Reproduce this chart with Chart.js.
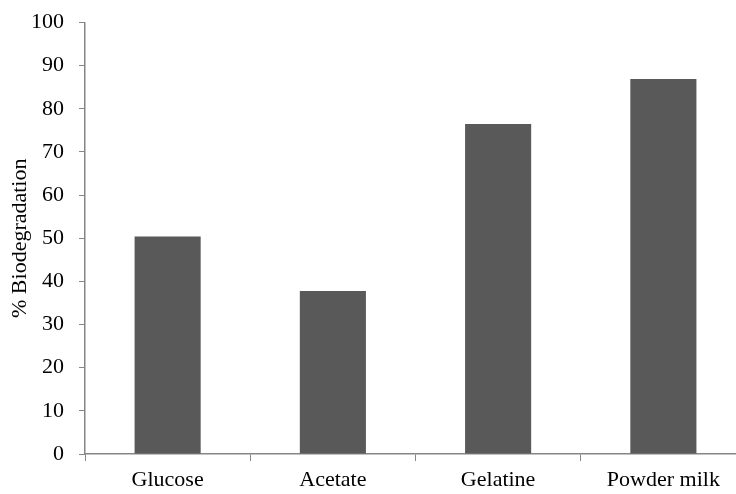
<!DOCTYPE html>
<html>
<head>
<meta charset="utf-8">
<script src="https://cdn.jsdelivr.net/npm/chart.js@4"></script>
<style>
  html, body { margin: 0; padding: 0; background: #fff; overflow: hidden; }
  /* canvas is a bit wider than the window so the x axis runs off the right edge like the original */
  #wrap { width: 736px; height: 494px; overflow: hidden; }
</style>
</head>
<body>
<div id="wrap"><canvas id="bioChart" width="746" height="494"></canvas></div>
<script>
const substrates = ['Glucose', 'Acetate', 'Gelatine', 'Powder milk'];
const biodegradation = [50.4, 37.8, 76.5, 86.9];
const yTicks = [0, 10, 20, 30, 40, 50, 60, 70, 80, 90, 100];

const axisGrey = '#868686';
const fontSpec = { family: '"Liberation Serif", "Times New Roman", serif', size: 22 };

/* bar chart config */
new Chart(document.getElementById('bioChart'), {
    type: 'bar',
    data: {
        labels: substrates,
        datasets: [{
            label: '% Biodegradation',
            data: biodegradation,
            backgroundColor: '#595959',
            borderWidth: 0,
            barPercentage: 0.4,
            categoryPercentage: 1.0,
        }],
    },
    options: {
        responsive: false,
        animation: false,
        layout: {
            padding: { top: 22.5, right: 0, bottom: 0, left: 0 },
        },
        plugins: {
            legend: { display: false },
            tooltip: { enabled: false },
        },
        scales: {
            x: {
                afterFit: (axis) => { axis.height = 40; },
                grid: {
                    drawOnChartArea: false,
                    offset: true,
                    tickLength: 7,
                    color: axisGrey,
                },
                border: { color: axisGrey, width: 1.5 },
                ticks: {
                    color: '#000',
                    font: fontSpec,
                    padding: 6,
                    maxRotation: 0,
                },
            },
            y: {
                min: 0,
                max: 100,
                /* fixed width; drop the extra label padding chart.js adds above/below */
                afterFit: (axis) => {
                    axis.width = 85;
                    axis.paddingTop = 0;
                    axis.paddingBottom = 0;
                },
                afterBuildTicks: (axis) => {
                    axis.ticks = yTicks.map(v => ({ value: v }));
                },
                grid: {
                    drawOnChartArea: false,
                    tickLength: 6,
                    color: axisGrey,
                },
                border: { color: axisGrey, width: 1.5 },
                ticks: {
                    color: '#000',
                    font: fontSpec,
                    padding: 15,
                },
                title: {
                    display: true,
                    text: '% Biodegradation',
                    color: '#000',
                    font: fontSpec,
                    padding: { top: 7, bottom: 0 },
                },
            },
        },
    },
});
</script>
</body>
</html>
